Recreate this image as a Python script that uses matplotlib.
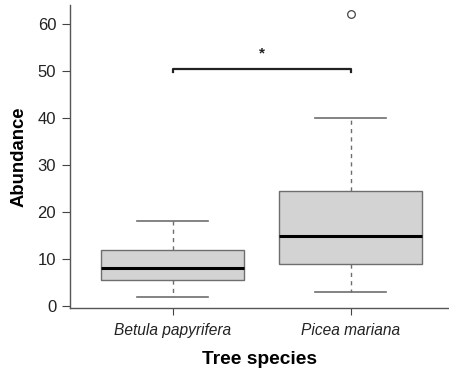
import matplotlib
matplotlib.use("Agg")
from matplotlib import pyplot as plt

plt.rcParams['font.family'] = ['Liberation Sans', 'DejaVu Sans']

# values
species = ['Betula papyrifera', 'Picea mariana']
medians = [8, 15]
q1 = [5.5, 9]
q3 = [12, 24.5]
whisLow = [2, 3]
whisHigh = [18, 40]
fliers = [[], [62]]
yTicks = [0, 10, 20, 30, 40, 50, 60]
bracketY = 50.5
signif = '*'


def main():
    fig = plt.figure(figsize=(4.49, 3.74), dpi=100)
    ax = fig.add_axes([0.156, 0.1765, 0.844, 0.81])

    stats = []
    for i in range(len(species)):
        stats.append({'med': medians[i], 'q1': q1[i], 'q3': q3[i],
                      'whislo': whisLow[i], 'whishi': whisHigh[i],
                      'fliers': fliers[i], 'label': species[i]})

    edge = '#6e6e6e'
    pos = [1, 2]
    ax.bxp(stats, positions=pos, widths=0.8, patch_artist=True,
           boxprops=dict(facecolor='#d3d3d3', edgecolor=edge, linewidth=1.0),
           medianprops=dict(color='black', linewidth=2.2),
           whiskerprops=dict(color=edge, linewidth=1.0, linestyle=(0, (3, 3))),
           capprops=dict(color=edge, linewidth=1.2),
           capwidths=0.4,
           flierprops=dict(marker='o', markersize=5.5, markerfacecolor='white',
                           markeredgecolor='#444444', markeredgewidth=0.9))

    # significance bracket
    ax.plot([pos[0], pos[0], pos[1], pos[1]],
            [bracketY - 0.7, bracketY, bracketY, bracketY - 0.7],
            color='#222222', linewidth=1.6)
    ax.text((pos[0] + pos[1]) / 2, bracketY + 3.2, signif, ha='center',
            va='center', fontsize=11, fontweight='bold', color='#222222')

    ax.set_xlim(0.424, 2.553)
    ax.set_ylim(-0.4, 64.0)
    ax.set_yticks(yTicks)
    ax.set_xticks(pos)
    ax.set_xticklabels(species, fontstyle='italic', fontsize=11.2, color='#222222')
    ax.tick_params(axis='y', labelsize=12, labelcolor='#222222', length=6,
                   pad=4, color='#444444')
    ax.tick_params(axis='x', length=5, pad=6, color='#444444')

    for side in ['top', 'right']:
        ax.spines[side].set_visible(False)
    for side in ['left', 'bottom']:
        ax.spines[side].set_color('#555555')
        ax.spines[side].set_linewidth(1.0)

    ax.set_ylabel('Abundance', fontsize=13.3, fontweight='bold', labelpad=7)
    ax.set_xlabel('Tree species', fontsize=13.8, fontweight='bold', labelpad=9)

    fig.savefig('out.png', dpi=100)


if __name__ == '__main__':
    main()
